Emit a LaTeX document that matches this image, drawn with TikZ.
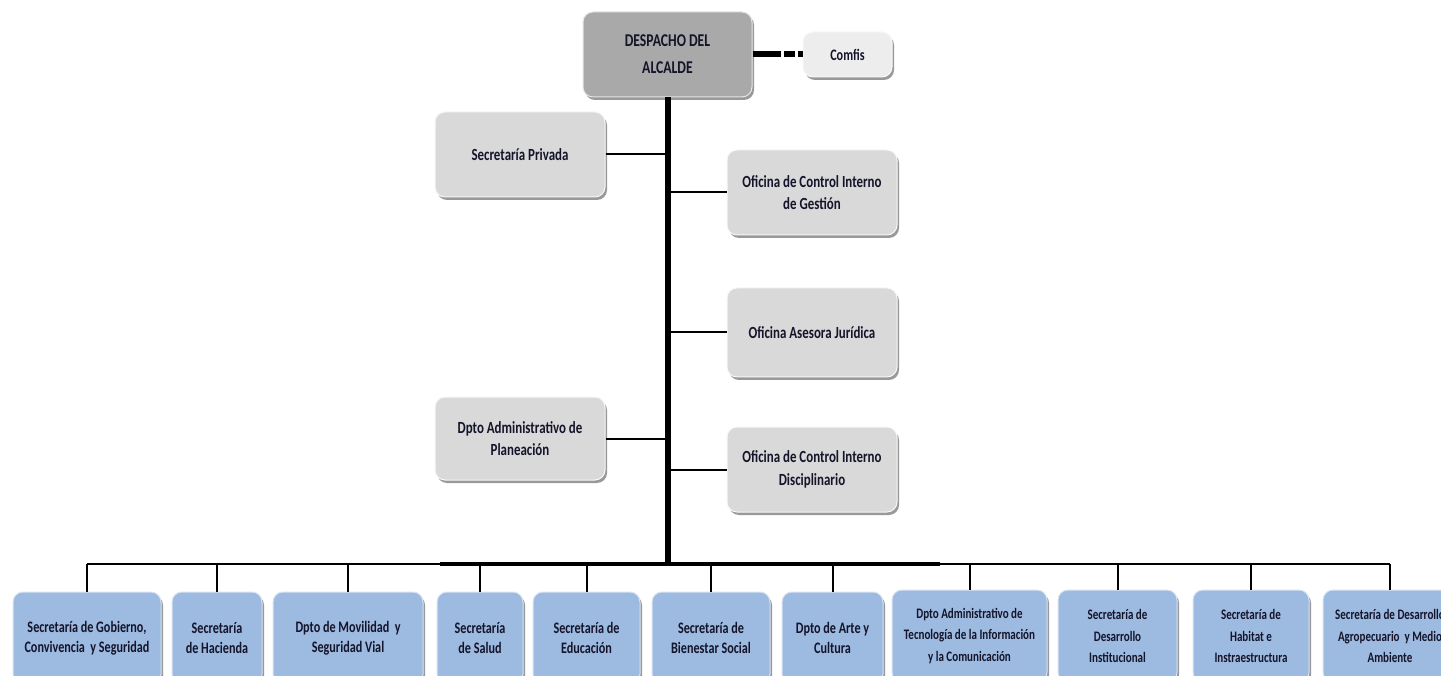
\documentclass[tikz,border=0pt]{standalone}
\usepackage{fontspec}
\newfontfamily\cf[FakeStretch=0.76]{Carlito}
\usetikzlibrary{shadows}
\definecolor{txt}{HTML}{14142A}
\definecolor{grayfill}{HTML}{D9D9D9}
\definecolor{topfill}{HTML}{A9A9A9}
\definecolor{bluefill}{HTML}{9DBAE0}
\definecolor{lightfill}{HTML}{EDEDED}
\tikzset{
  box/.style={rectangle, rounded corners=10pt, inner sep=0pt, align=center,
    text=txt, line width=1pt,
    drop shadow={shadow xshift=2pt, shadow yshift=-3pt, opacity=0.4, fill=black}},
  graybox/.style={box, fill=grayfill, draw=white!80!grayfill,
    minimum width=170pt, minimum height=85pt,
    font=\cf\bfseries\fontsize{17}{22.5}\selectfont},
  bluebox/.style={box, fill=bluefill, draw=white!60!bluefill,
    minimum height=92pt, font=\cf\bfseries\fontsize{16}{20}\selectfont},
  smallblue/.style={bluebox, font=\cf\bfseries\fontsize{14.5}{21.5}\selectfont},
  wire/.style={draw=black, line width=2pt},
  trunkline/.style={draw=black, line width=6pt},
  busthick/.style={draw=black, line width=4pt},
  dashline/.style={draw=black, line width=6pt, dash pattern=on 28pt off 3pt on 11pt off 3pt on 6pt off 3pt}
}
\begin{document}
\begin{tikzpicture}[x=1pt, y=-1pt]
\useasboundingbox (0,0) rectangle (1441,676);
\fill[white] (0,0) rectangle (1441,676);

% top
\node[box, fill=topfill, draw=white!70!topfill, minimum width=169pt, minimum height=85pt,
  font=\cf\bfseries\fontsize{18}{27}\selectfont] (desp) at (667.5,54.5) {DESPACHO DEL\\ALCALDE};
\node[box, fill=lightfill, draw=white!60!lightfill, minimum width=89pt, minimum height=45pt,
  font=\cf\bfseries\fontsize{16}{20}\selectfont] (comfis) at (847.5,54.5) {Comfis};

% side boxes
\node[graybox] (priv) at (520,154.5) {Secretaría Privada};
\node[graybox] (gest) at (812,192.5) {Oficina de Control Interno\\de Gestión};
\node[graybox, minimum height=89pt] (jur) at (812,332.5) {Oficina Asesora Jurídica};
\node[graybox, minimum height=83pt] (plan) at (520,438.5) {Dpto Administrativo de\\Planeación};
\node[graybox] (disc) at (812,469.5) {Oficina de Control Interno\\Disciplinario};

% bottom row
\node[bluebox, minimum width=148pt] (b1) at (87,638) {Secretaría de Gobierno,\\Convivencia\, y Seguridad};
\node[bluebox, minimum width=90pt] (b2) at (217,638) {Secretaría\\de Hacienda};
\node[bluebox, minimum width=150pt] (b3) at (348,638) {Dpto de Movilidad\, y\\Seguridad Vial};
\node[bluebox, minimum width=86pt] (b4) at (480,638) {Secretaría\\de Salud};
\node[bluebox, minimum width=107pt] (b5) at (586.5,638) {Secretaría de\\Educación};
\node[bluebox, minimum width=118pt] (b6) at (711,638) {Secretaría de\\Bienestar Social};
\node[bluebox, minimum width=101pt] (b7) at (832.5,638) {Dpto de Arte y\\Cultura};
\node[smallblue, minimum width=155pt] (b8) at (969.5,636) {Dpto Administrativo de\\Tecnología de la Información\\y la Comunicación};
\node[smallblue, minimum width=119pt] (b9) at (1117.5,636) {Secretaría de\\Desarrollo\\Institucional};
\node[smallblue, minimum width=116pt] (b10) at (1251,636) {Secretaría de\\Habitat e\\Instraestructura};
\node[smallblue, minimum width=134pt] (b11) at (1390,636) {Secretaría de Desarrollo\\Agropecuario\, y Medio\\Ambiente};

% bus coordinates
\coordinate (busL) at (86,564);
\coordinate (thL) at (440,564);
\coordinate (thR) at (940,564);

% connectors
\draw[dashline] (desp.east) -- (comfis.west);
\draw[wire] (priv.east) -- (priv.east -| desp.south);
\draw[wire] (plan.east) -- (plan.east -| desp.south);
\draw[wire] (gest.west) -- (gest.west -| desp.south);
\draw[wire] (jur.west) -- (jur.west -| desp.south);
\draw[wire] (disc.west) -- (disc.west -| desp.south);
\draw[wire] (b1.north |- busL) -- (b11.north |- busL);
\draw[busthick] (thL) -- (thR);
\foreach \b in {b1,b2,b3,b4,b5,b6,b7,b8,b9,b10,b11}
  \draw[wire] (\b.north |- busL) -- (\b.north);
\draw[trunkline] (desp.south) -- (desp.south |- busL);
\end{tikzpicture}
\end{document}
